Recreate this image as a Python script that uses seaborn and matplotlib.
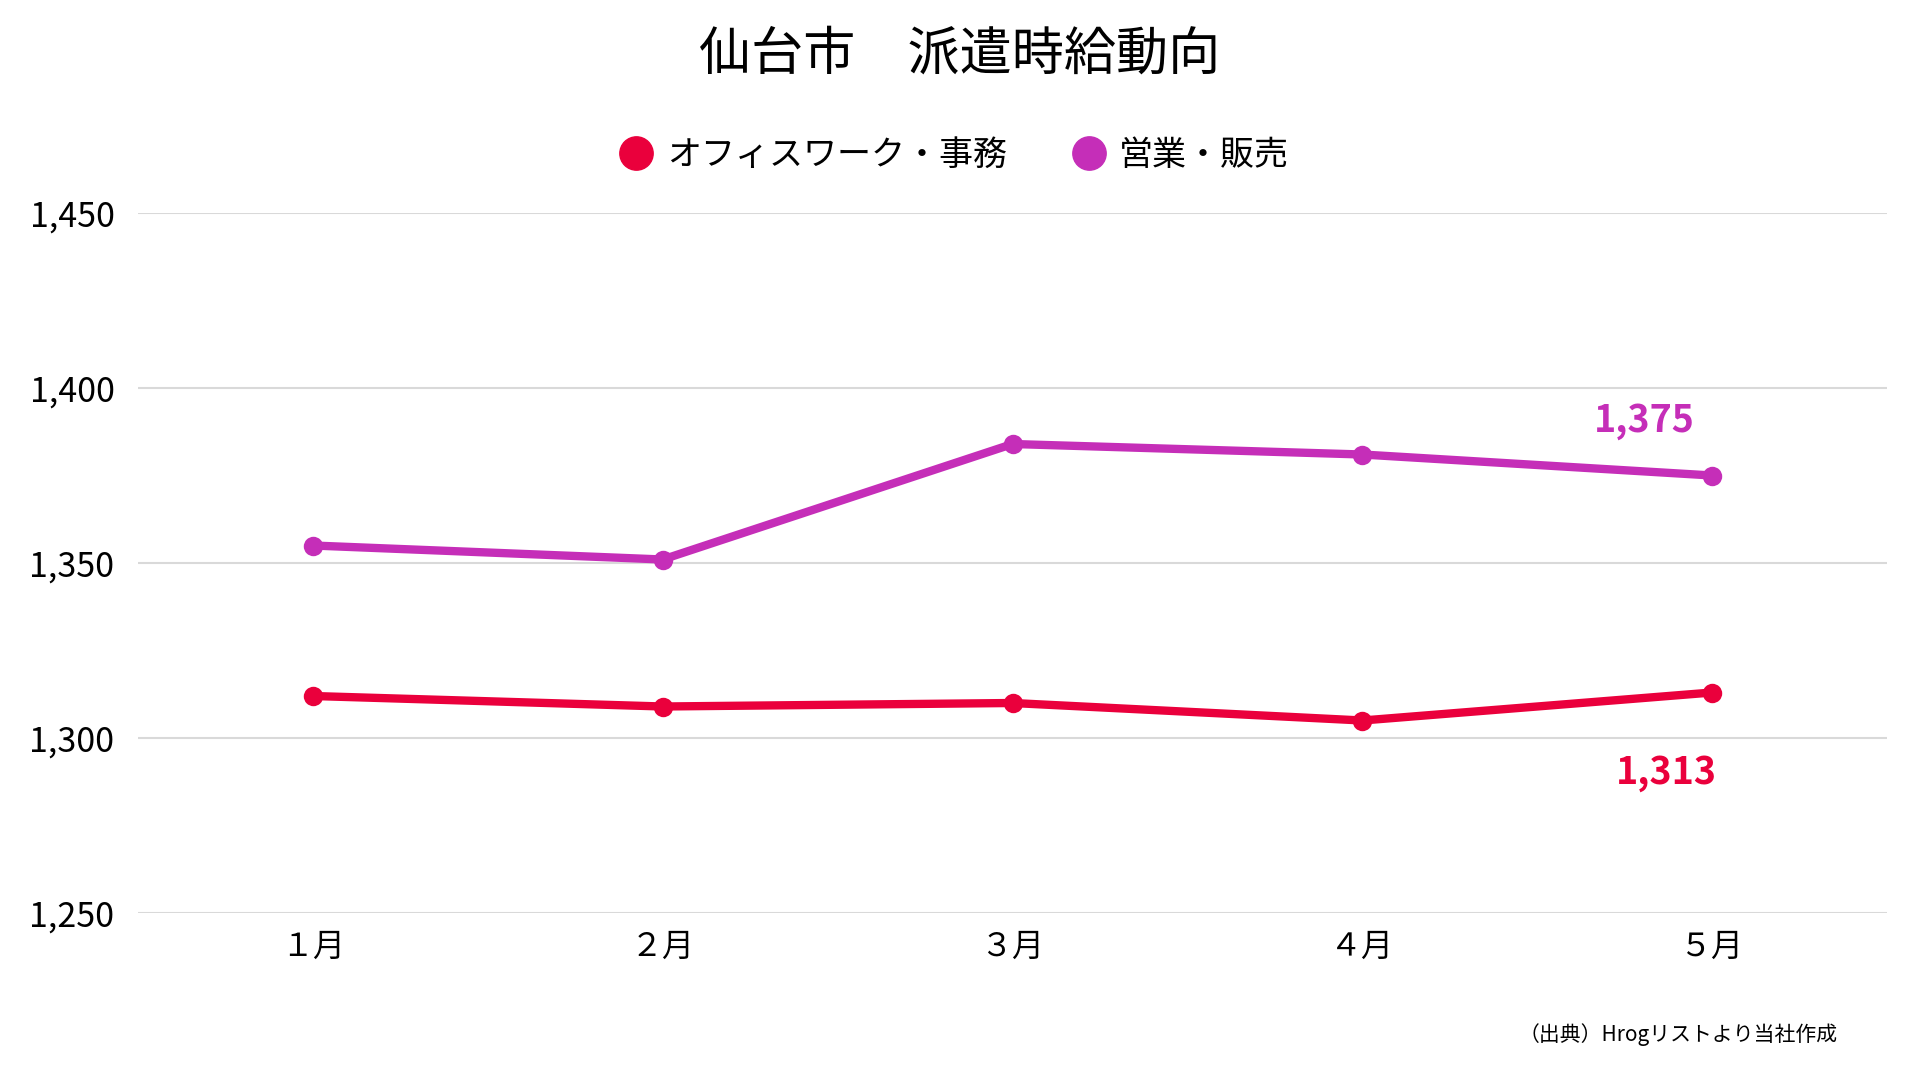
import matplotlib
matplotlib.use("Agg")
import matplotlib.pyplot as plt
import pandas as pd
import seaborn as sns
from matplotlib.ticker import FuncFormatter
from matplotlib.lines import Line2D

months = ["１月", "２月", "３月", "４月", "５月"]
office = [1312, 1309, 1310, 1305, 1313]
sales = [1355, 1351, 1384, 1381, 1375]
series_names = ["オフィスワーク・事務", "営業・販売"]
colors = ["#EA003C", "#C52EB8"]
yticks = [1250, 1300, 1350, 1400, 1450]

df = pd.DataFrame({
    "month": months * 2,
    "value": office + sales,
    "series": [series_names[0]] * 5 + [series_names[1]] * 5,
})

sns.set_style("white")
plt.rcParams['font.family'] = ['Noto Sans CJK JP', 'DejaVu Sans']
plt.rcParams['text.color'] = 'black'
plt.rcParams['xtick.color'] = 'black'
plt.rcParams['ytick.color'] = 'black'

fig = plt.figure(figsize=(19.2, 10.8), dpi=100)
ax = fig.add_axes([138 / 1920, 1 - 913 / 1080, 1749 / 1920, 700 / 1080])

sns.lineplot(data=df, x="month", y="value", hue="series",
             palette=colors, marker="o", markersize=14, markeredgewidth=0,
             linewidth=6, sort=False, legend=False, ax=ax)

ax.set_xlim(-0.5, 4.5)
ax.set_ylim(1250, 1450)
ax.set_yticks(yticks)
ax.yaxis.set_major_formatter(FuncFormatter(lambda v, p: f"{int(v):,}"))
ax.grid(axis="y", color="#d9d9d9", linewidth=1.5)
ax.set_axisbelow(True)
for s in ax.spines.values():
    s.set_visible(False)
ax.tick_params(axis="y", labelsize=24.5, length=0, pad=17)
ax.tick_params(axis="x", labelsize=23, length=0, pad=13)
ax.set_xlabel("")
ax.set_ylabel("")

# end labels
ax.annotate(f"{sales[-1]:,}", (4, sales[-1]), xytext=(-68, 55), textcoords="offset pixels",
            color=colors[1], fontsize=27, fontweight="bold", ha="center", va="center")
ax.annotate(f"{office[-1]:,}", (4, office[-1]), xytext=(-46, -80), textcoords="offset pixels",
            color=colors[0], fontsize=27, fontweight="bold", ha="center", va="center")

fig.text(0.5, 1 - 55 / 1080, "仙台市　派遣時給動向", ha="center", va="center", fontsize=37.5)

handles = [Line2D([], [], marker="o", linestyle="", markersize=24, color=c) for c in colors]
fig.legend(handles, series_names, loc="center", bbox_to_anchor=(0.497, 1 - 155 / 1080),
           ncol=2, frameon=False, fontsize=24.5, handlelength=1.0,
           handletextpad=0.40, columnspacing=1.9)

fig.text(1838 / 1920, 1 - 1035 / 1080, "（出典）Hrogリストより当社作成", ha="right", va="center", fontsize=15)

fig.savefig("out.png", dpi=100)
